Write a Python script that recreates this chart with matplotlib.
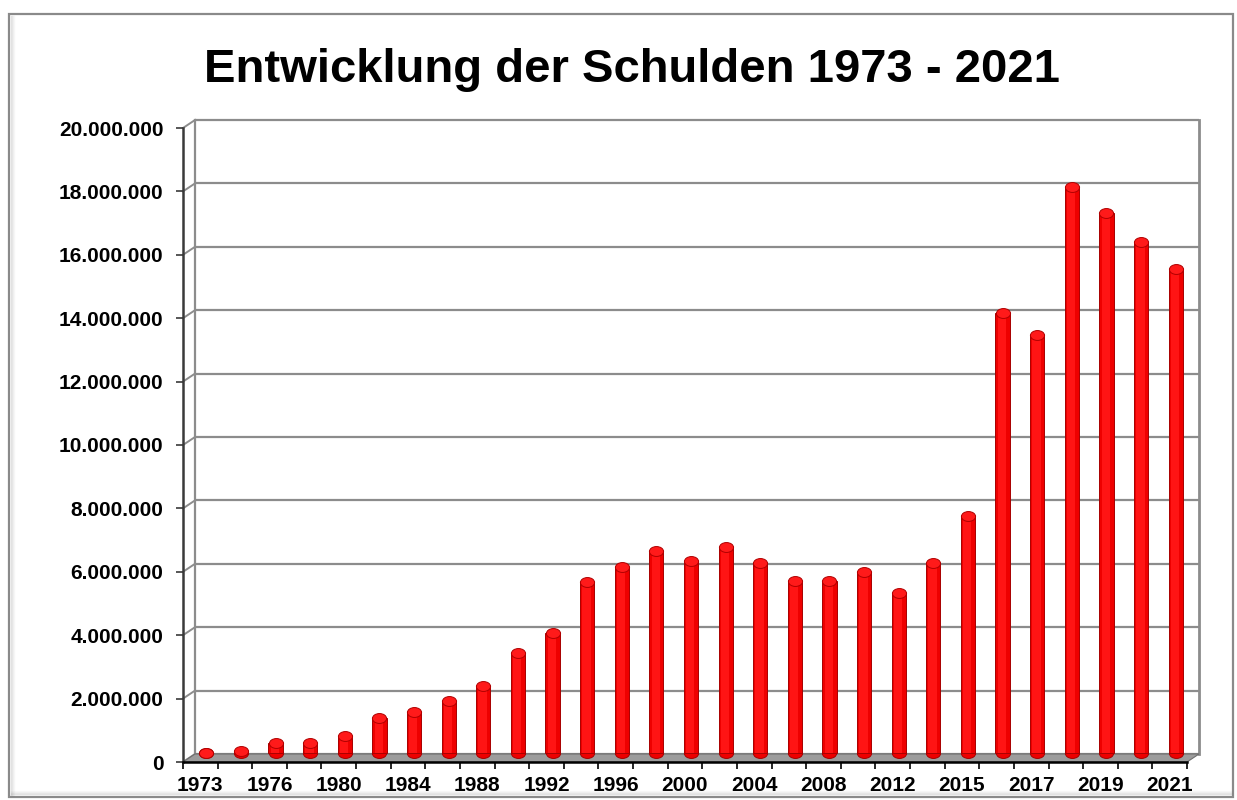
import matplotlib
matplotlib.use("Agg")
import matplotlib.pyplot as plt
import matplotlib.patches as mpatches
from matplotlib.path import Path
from matplotlib.markers import MarkerStyle
from matplotlib.ticker import FuncFormatter, FixedLocator
import matplotlib.transforms as mtransforms
import numpy as np

plt.rcParams['font.family'] = ['Liberation Sans', 'DejaVu Sans']

# ---------------- data ----------------
years = ["1973", "1974", "1976", "1978", "1980", "1982", "1984", "1986", "1988",
         "1990", "1992", "1994", "1996", "1998", "2000", "2002", "2004", "2006",
         "2008", "2010", "2012", "2014", "2015", "2016", "2017", "2018", "2019",
         "2020", "2021"]
debts = [10000, 60000, 310000, 320000, 530000, 1100000, 1300000, 1630000, 2110000,
         3170000, 3780000, 5400000, 5880000, 6370000, 6070000, 6500000, 5980000,
         5440000, 5440000, 5720000, 5040000, 5990000, 7480000, 13890000, 13190000,
         17870000, 17020000, 16130000, 15260000]
yticks = [0, 2000000, 4000000, 6000000, 8000000, 10000000, 12000000,
          14000000, 16000000, 18000000, 20000000]
title = "Entwicklung der Schulden 1973 - 2021"

# ---------------- figure ----------------
W, H = 1237, 800
fig = plt.figure(figsize=(W / 100, H / 100), dpi=100)
fig.patch.set_facecolor("white")

def fx(px):
    return px / W
def fy(py):
    return (H - py) / H

# outer frame with light shadow
for i, a in enumerate([0.18, 0.12, 0.07, 0.04]):
    fig.add_artist(plt.Line2D([fx(11 + i), fx(11 + i)], [fy(16), fy(795)],
                              color="#707070", alpha=a, lw=1.0))
    fig.add_artist(plt.Line2D([fx(11), fx(1231)], [fy(794 - i), fy(794 - i)],
                              color="#707070", alpha=a, lw=1.0))
frame = mpatches.Rectangle((fx(9), fy(797)), fx(1233) - fx(9), fy(14) - fy(797),
                           transform=fig.transFigure, fill=False,
                           edgecolor="#8a8a8a", lw=1.6)
fig.add_artist(frame)

fig.text(fx(632), fy(82.5), title, ha="center", va="baseline",
         fontsize=34, fontweight="bold", color="black")

# front plane of the axes
left, right, top, bottom = 183, 1187, 128, 762
ax = fig.add_axes([fx(left), fy(bottom), fx(right) - fx(left), fy(top) - fy(bottom)])
ax.set_facecolor("none")
n = len(years)
x = np.arange(n)
ax.set_xlim(-0.5, n - 0.5)
ax.set_ylim(0, 20000000)

# pixel -> data conversion for depth offsets
px_x = n / (right - left)
px_y = 20000000 / (bottom - top)
dep_x, dep_y = 12 * px_x, 8 * px_y       # back wall depth
bar_tr = mtransforms.offset_copy(ax.transData, fig=fig, x=6, y=9, units="dots")

gcol = "#8c8c8c"
x0, x1 = -0.5, n - 0.5
# back wall gridlines + left wall connectors
for v in yticks:
    ax.plot([x0 + dep_x, x1 + dep_x], [v + dep_y, v + dep_y], color=gcol, lw=1.6,
            clip_on=False, zorder=1, solid_capstyle="butt")
    ax.plot([x0, x0 + dep_x], [v, v + dep_y], color=gcol, lw=1.4, clip_on=False, zorder=1)
# back wall vertical edges
ax.plot([x0 + dep_x, x0 + dep_x], [dep_y, yticks[-1] + dep_y], color=gcol, lw=1.6,
        clip_on=False, zorder=1)
ax.plot([x1 + dep_x, x1 + dep_x], [dep_y, yticks[-1] + dep_y], color=gcol, lw=2.0,
        clip_on=False, zorder=1)

# floor
floor = mpatches.Polygon([(x0, 0), (x1, 0), (x1 + dep_x, dep_y), (x0 + dep_x, dep_y)],
                         closed=True, facecolor="#9c9c9c", edgecolor="#6e6e6e",
                         lw=0.8, clip_on=False, zorder=2)
ax.add_patch(floor)

# cylinders
ell = Path.unit_circle().transformed(mtransforms.Affine2D().scale(1.0, 0.7))
ell_marker = MarkerStyle(ell)
ax.bar(x, debts, width=0.41, color="#ee0000", edgecolor="#a80000", lw=0.7,
       transform=bar_tr, zorder=3)
ax.bar(x - 0.02, debts, width=0.24, color="#ff1414", lw=0,
       transform=bar_tr, zorder=3.1)
ax.scatter(x, [0] * n, marker=ell_marker, s=104, color="#ee0000",
           edgecolors="#a80000", linewidths=0.7, transform=bar_tr, zorder=2.9)
ax.scatter(x, debts, marker=ell_marker, s=104, color="#ff1a1a",
           edgecolors="#b00000", linewidths=0.7, transform=bar_tr, zorder=3.2)

# spines
for s in ["top", "right"]:
    ax.spines[s].set_visible(False)
ax.spines["left"].set_color("#3a3a3a")
ax.spines["left"].set_linewidth(1.8)
ax.spines["bottom"].set_color("black")
ax.spines["bottom"].set_linewidth(1.8)
ax.spines["left"].set_zorder(5)
ax.spines["bottom"].set_zorder(5)

ax.yaxis.set_major_locator(FixedLocator(yticks))
ax.yaxis.set_major_formatter(FuncFormatter(lambda v, p: f"{int(v):,}".replace(",", ".")))
ax.tick_params(axis="y", direction="out", length=5, width=1.2, color="#3a3a3a",
               pad=9, labelsize=15)
for lab in ax.get_yticklabels():
    lab.set_fontweight("bold")

ax.set_xticks(x[::2])
ax.set_xticklabels(years[::2], fontsize=15, fontweight="bold")
ax.set_xticks(np.arange(n + 1) - 0.5, minor=True)
ax.tick_params(axis="x", which="major", length=0, pad=10)
ax.tick_params(axis="x", which="minor", direction="out", length=5, width=1.2,
               color="black")

fig.savefig("out.png", dpi=100, facecolor="white")
